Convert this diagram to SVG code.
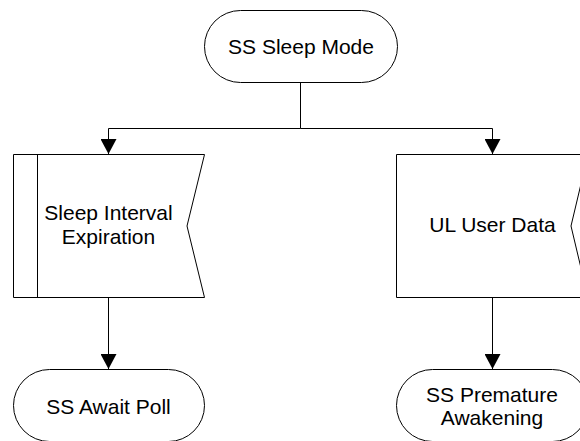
<svg xmlns="http://www.w3.org/2000/svg" width="580" height="441" viewBox="0 0 580 441">
  <style>
    .shape { fill: #ffffff; stroke: #000000; stroke-width: 1; }
    .edge { fill: none; stroke: #000000; stroke-width: 1; }
    .label { font-family: "Liberation Sans", Arial, sans-serif; font-size: 21px; fill: #000000; text-anchor: middle; }
  </style>
  <defs>
    <marker id="arrow" markerUnits="userSpaceOnUse" markerWidth="16" markerHeight="16" viewBox="0 0 16 16" refX="15" refY="8" orient="auto">
      <path d="M0,0 L15,8 L0,16 Z" fill="#000000"/>
    </marker>
  </defs>
  <rect width="580" height="441" fill="#ffffff"/>

  <!-- connectors -->
  <g id="connectors">
    <path class="edge" d="M300.5,82 V128.5 H108.5 V154" marker-end="url(#arrow)"/>
    <path class="edge" d="M300.5,128.5 H492.5 V154" marker-end="url(#arrow)"/>
    <path class="edge" d="M108.5,297 V369" marker-end="url(#arrow)"/>
    <path class="edge" d="M492.5,297 V369" marker-end="url(#arrow)"/>
  </g>

  <!-- start state -->
  <g id="ss-sleep-mode">
    <rect class="shape" x="204.5" y="10.5" width="193" height="72" rx="36" ry="36"/>
    <text class="label" x="301" y="53.5">SS Sleep Mode</text>
  </g>

  <!-- internal input event -->
  <g id="sleep-interval-expiration">
    <polygon class="shape" points="13.5,154.5 204.5,154.5 187,226 204.5,297.5 13.5,297.5"/>
    <line class="edge" x1="37.5" y1="154.5" x2="37.5" y2="297.5"/>
    <text class="label" x="108.5" y="219.5">Sleep Interval</text>
    <text class="label" x="108.5" y="244">Expiration</text>
  </g>

  <!-- input event -->
  <g id="ul-user-data">
    <polygon class="shape" points="396.5,154.5 588,154.5 571,226 588,297.5 396.5,297.5"/>
    <text class="label" x="492.5" y="232">UL User Data</text>
  </g>

  <!-- next states -->
  <g id="ss-await-poll">
    <rect class="shape" x="13.5" y="369.5" width="191" height="72" rx="36" ry="36"/>
    <text class="label" x="108.5" y="413.5">SS Await Poll</text>
  </g>
  <g id="ss-premature-awakening">
    <rect class="shape" x="396.5" y="369.5" width="192" height="72" rx="36" ry="36"/>
    <text class="label" x="492" y="401.5">SS Premature</text>
    <text class="label" x="492" y="425">Awakening</text>
  </g>
</svg>
